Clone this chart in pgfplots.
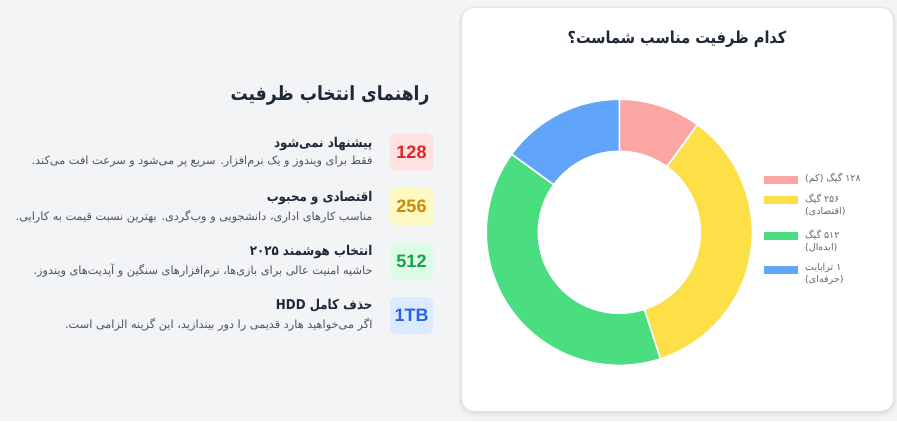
\documentclass[border=0pt]{standalone}
\usepackage{pgfplots}
\pgfplotsset{compat=1.18}
\usepackage{pgfplotstable}
\usepackage{fontspec}
\setmainfont{Liberation Sans}
\newfontfamily\fa[Script=Arabic]{DejaVu Sans}
\newfontfamily\fab[Script=Arabic, FakeStretch=0.88]{DejaVu Sans}
\TeXXeTstate=1

\definecolor{bggray}{HTML}{F3F4F6}
\definecolor{titlecol}{HTML}{1F2937}
\definecolor{desccol}{HTML}{4B5563}
\definecolor{legendcol}{HTML}{666666}
\definecolor{slice0}{HTML}{FCA5A5}
\definecolor{slice1}{HTML}{FDE047}
\definecolor{slice2}{HTML}{4ADE80}
\definecolor{slice3}{HTML}{60A5FA}
\definecolor{badgeRbg}{HTML}{FEE2E2}
\definecolor{badgeRfg}{HTML}{DC2626}
\definecolor{badgeYbg}{HTML}{FEF9C3}
\definecolor{badgeYfg}{HTML}{CA8A04}
\definecolor{badgeGbg}{HTML}{DCFCE7}
\definecolor{badgeGfg}{HTML}{16A34A}
\definecolor{badgeBbg}{HTML}{DBEAFE}
\definecolor{badgeBfg}{HTML}{2563EB}

\pgfplotstableread{
label value
128 10
256 35
512 40
1TB 15
}\capdata

\newcommand\donutwedge[3]{%
  \fill[#3, draw=white, line width=1.5pt]
    (axis cs:{133*cos(#1)},{133*sin(#1)}) arc[start angle=#1, end angle=#2, radius=133pt]
    -- (axis cs:{81*cos(#2)},{81*sin(#2)}) arc[start angle=#2, end angle=#1, radius=81pt] -- cycle;}

\newcommand\badge[5]{% x-center y-center bg fg text
  \fill[#3, rounded corners=6pt] (#1-21.5,#2-18.5) rectangle (#1+21.5,#2+18.5);
  \node[font=\bfseries\fontsize{18}{20}\selectfont, text=#4] at (#1,#2) {#5};}

% legend entry: box top y, box bottom y (axis units), color; text at y
\newcommand\legbox[3]{\fill[#3] (axis cs:144.7,#2) rectangle (axis cs:178.7,#1);}
\newcommand\legtext[2]{\node[anchor=west, inner sep=0pt, font=\fa\fontsize{9.5}{12}\selectfont, text=legendcol] at (axis cs:185.7,#1) {#2};}

\begin{document}
\begin{tikzpicture}[x=1pt,y=1pt]
% background
\fill[bggray] (0,0) rectangle (897,421);
% card shadow
\foreach \k/\op in {6/0.015,4.5/0.02,3/0.025,1.5/0.03}{
  \fill[black, opacity=\op, rounded corners=14pt] (462-\k*0.6,10-\k) rectangle (893+\k*0.6,413+\k*0.3);
}
\fill[white, rounded corners=12pt] (462,10) rectangle (893,413);

% card title
\node[font=\fab\bfseries\fontsize{16.5}{20}\selectfont, text=titlecol] at (677,382)
  {\beginR کدام ظرفیت مناسب شماست؟\endR};

% guide heading
\node[anchor=east, font=\fab\bfseries\fontsize{19.5}{24}\selectfont, text=titlecol] at (433,326)
  {\beginR راهنمای انتخاب ظرفیت\endR};

% items
\badge{411.5}{269}{badgeRbg}{badgeRfg}{128}
\node[anchor=east, font=\fab\bfseries\fontsize{13.5}{16}\selectfont, text=titlecol] at (376,277) {\beginR پیشنهاد نمی‌شود\endR};
\node[anchor=east, font=\fa\fontsize{11.3}{14}\selectfont, text=desccol] at (376,259) {\beginR فقط برای ویندوز و یک نرم‌افزار. سریع پر می‌شود و سرعت افت می‌کند.\endR};

\badge{411.5}{214.5}{badgeYbg}{badgeYfg}{256}
\node[anchor=east, font=\fab\bfseries\fontsize{13.5}{16}\selectfont, text=titlecol] at (376,223) {\beginR اقتصادی و محبوب\endR};
\node[anchor=east, font=\fa\fontsize{11.3}{14}\selectfont, text=desccol] at (376,204) {\beginR مناسب کارهای اداری، دانشجویی و وب‌گردی. بهترین نسبت قیمت به کارایی.\endR};

\badge{411.5}{160}{badgeGbg}{badgeGfg}{512}
\node[anchor=east, font=\fab\bfseries\fontsize{13.5}{16}\selectfont, text=titlecol] at (376,169) {\beginR انتخاب هوشمند ۲۰۲۵\endR};
\node[anchor=east, font=\fa\fontsize{11.3}{14}\selectfont, text=desccol] at (376,150) {\beginR حاشیه امنیت عالی برای بازی‌ها، نرم‌افزارهای سنگین و آپدیت‌های ویندوز.\endR};

\badge{411.5}{105.5}{badgeBbg}{badgeBfg}{1TB}
\node[anchor=east, font=\fab\bfseries\fontsize{13.5}{16}\selectfont, text=titlecol] at (376,115) {\beginR حذف کامل \beginL HDD\endL{}\endR};
\node[anchor=east, font=\fa\fontsize{11.3}{14}\selectfont, text=desccol] at (376,96) {\beginR اگر می‌خواهید هارد قدیمی را دور بیندازید، این گزینه الزامی است.\endR};

% cumulative angles from the data (start at 12 o'clock, clockwise)
\pgfplotstablegetelem{0}{value}\of\capdata \pgfmathsetmacro\aB{90-3.6*\pgfplotsretval}
\pgfplotstablegetelem{1}{value}\of\capdata \pgfmathsetmacro\aC{\aB-3.6*\pgfplotsretval}
\pgfplotstablegetelem{2}{value}\of\capdata \pgfmathsetmacro\aD{\aC-3.6*\pgfplotsretval}
\pgfplotstablegetelem{3}{value}\of\capdata \pgfmathsetmacro\aE{\aD-3.6*\pgfplotsretval}

\begin{axis}[
  x=1pt, y=1pt, hide axis, clip=false,
  xmin=-140, xmax=140, ymin=-140, ymax=140,
  anchor=center, at={(619.3,188.7)},
]
\donutwedge{90}{\aB}{slice0}
\donutwedge{\aB}{\aC}{slice1}
\donutwedge{\aC}{\aD}{slice2}
\donutwedge{\aD}{\aE}{slice3}
% legend
\legbox{56.6}{48}{slice0}
\legtext{54.3}{\beginR ۱۲۸ گیگ (کم)\endR}
\legbox{36.3}{28}{slice1}
\legtext{33.3}{\beginR ۲۵۶ گیگ\endR}
\legtext{20.6}{\beginR (اقتصادی)\endR}
\legbox{0.6}{-7.7}{slice2}
\legtext{-2.7}{\beginR ۵۱۲ گیگ\endR}
\legtext{-15}{\beginR (ایده‌ال)\endR}
\legbox{-33.7}{-41.7}{slice3}
\legtext{-36}{\beginR ۱ ترابایت\endR}
\legtext{-47.7}{\beginR (حرفه‌ای)\endR}
\end{axis}
\end{tikzpicture}
\end{document}
